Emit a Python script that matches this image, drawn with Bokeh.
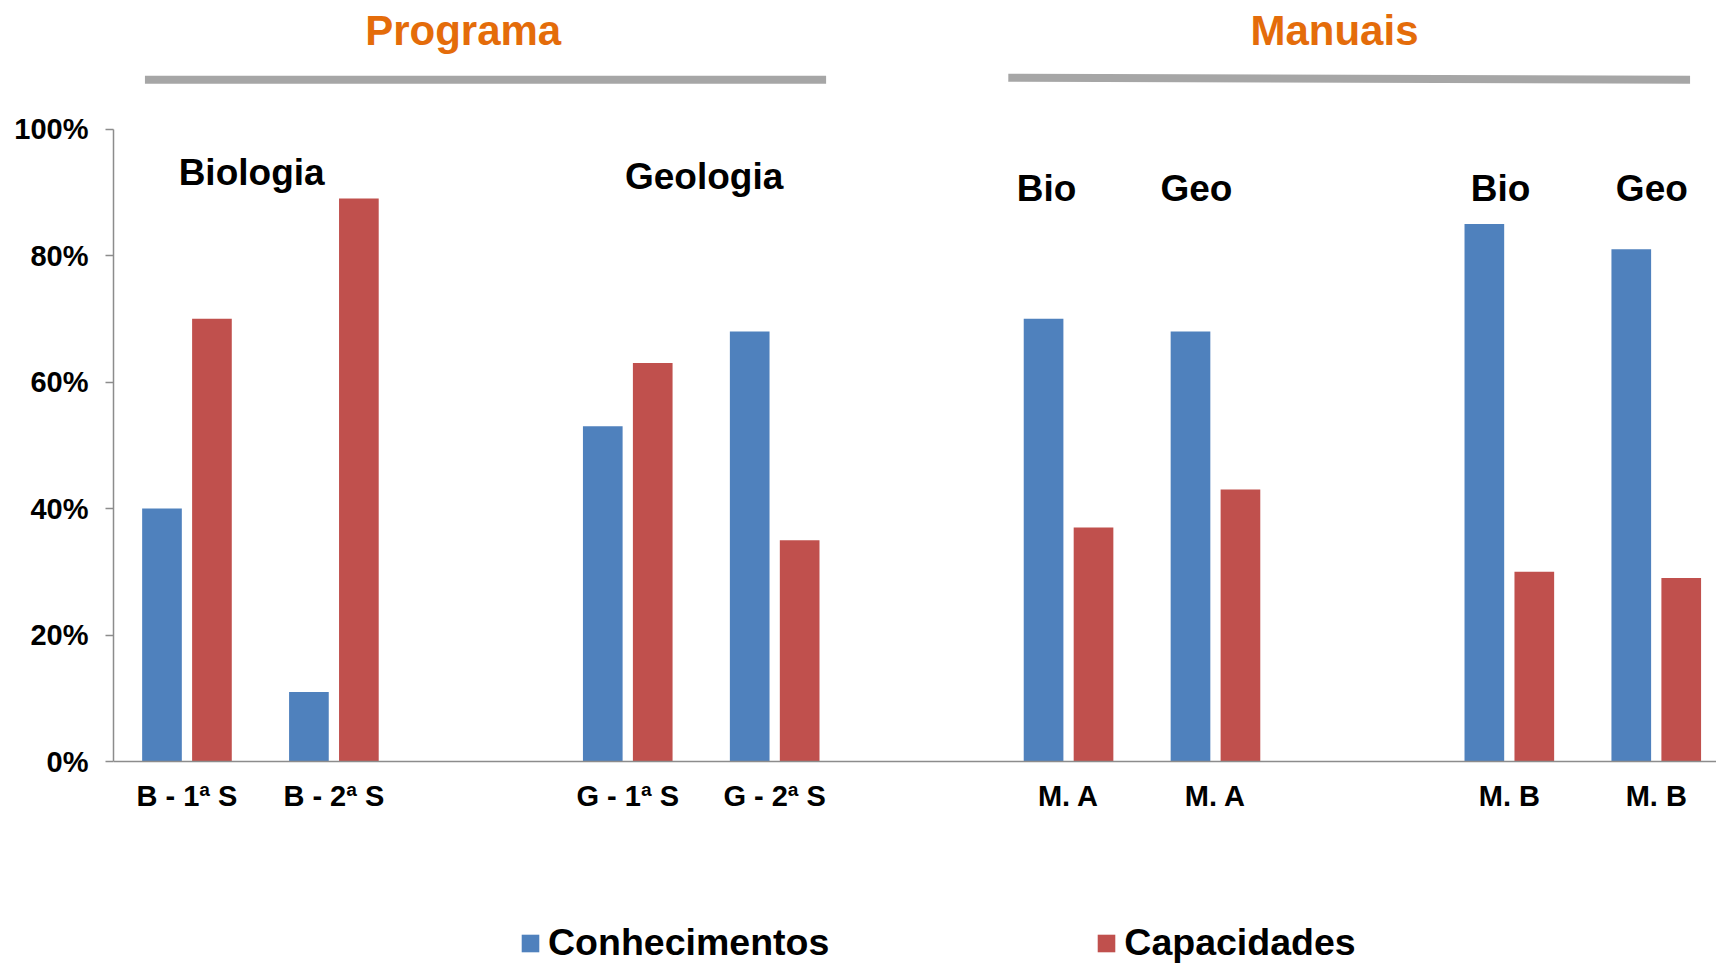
from bokeh.plotting import figure
from bokeh.models import Range1d, FixedTicker, Legend, LegendItem, ColumnDataSource
from bokeh.core.properties import value
from bokeh.embed import file_html
from bokeh.resources import INLINE

# ---- data ----
categories = ["B - 1ª S", "B - 2ª S", "G - 1ª S", "G - 2ª S", "M. A", "M. A", "M. B", "M. B"]
conhecimentos = [40, 11, 53, 68, 70, 68, 85, 81]
capacidades = [70, 89, 63, 35, 37, 43, 30, 29]
y_ticks = [0, 20, 40, 60, 80, 100]
y_tick_labels = ["0%", "20%", "40%", "60%", "80%", "100%"]
series_names = ["Conhecimentos", "Capacidades"]

# ---- layout (slot positions, offsets, annotations) ----
slots = [0, 1, 3, 4, 6, 7, 9, 10]
offset = 0.17
bar_w = 0.27
blue = "#4F81BD"
red = "#C0504D"
orange = "#E46C0A"
FONT = "Liberation Sans"
dy = 2.13  # baseline correction for svg text

group_titles = ["Biologia", "Geologia", "Bio", "Geo", "Bio", "Geo"]
group_x = [0.44, 3.52, 5.85, 6.87, 8.94, 9.97]
group_y = [91.0 + dy, 90.4 + dy, 88.5 + dy, 88.5 + dy, 88.5 + dy, 88.5 + dy]

top_titles = ["Programa", "Manuais"]
top_x = [1.88, 7.81]
top_y = [113.4 + dy, 113.4 + dy]

line_x0 = [-0.286, 5.59]
line_x1 = [4.35, 10.23]
line_y0 = [107.8, 108.1]
line_y1 = [107.8, 107.8]

W, H = 1716, 964
p = figure(width=W, height=H, output_backend="svg", toolbar_location=None,
           x_range=Range1d(-0.5, 10.41), y_range=Range1d(-32.09, 120.32),
           min_border_left=113, min_border_right=0, min_border_top=0, min_border_bottom=0)
p.outline_line_color = None
p.grid.visible = False
p.background_fill_color = "white"
p.border_fill_color = "white"

src = ColumnDataSource(dict(
    xb=[s - offset for s in slots], xr=[s + offset for s in slots],
    c=conhecimentos, k=capacidades))
rb = p.vbar(x="xb", top="c", bottom=0, width=bar_w, source=src, fill_color=blue, line_color=None)
rr = p.vbar(x="xr", top="k", bottom=0, width=bar_w, source=src, fill_color=red, line_color=None)

# y axis
yax = p.yaxis[0]
yax.bounds = (0, 100)
yax.ticker = FixedTicker(ticks=y_ticks)
yax.major_label_overrides = {t: l for t, l in zip(y_ticks, y_tick_labels)}
yax.major_label_text_font = FONT
yax.major_label_text_font_style = "bold"
yax.major_label_text_font_size = "29px"
yax.major_label_text_color = "black"
yax.major_tick_out = 8
yax.major_tick_in = 0
yax.minor_tick_line_color = None
yax.major_label_standoff = 17
yax.axis_line_color = "#8C8C8C"
yax.axis_line_width = 1.5
yax.major_tick_line_color = "#8C8C8C"
yax.major_tick_line_width = 1.5

# x axis at y = 0
xax = p.xaxis[0]
xax.fixed_location = 0
xax.ticker = FixedTicker(ticks=slots)
xax.major_label_overrides = {s: c for s, c in zip(slots, categories)}
xax.major_label_text_font = FONT
xax.major_label_text_font_style = "bold"
xax.major_label_text_font_size = "29px"
xax.major_label_text_color = "black"
xax.major_tick_out = 0
xax.major_tick_in = 0
xax.minor_tick_line_color = None
xax.major_label_standoff = 18
xax.axis_line_color = "#8C8C8C"
xax.axis_line_width = 1.5

# group titles
p.text(x=group_x, y=group_y, text=group_titles, text_font=value(FONT), text_font_style="bold",
       text_font_size="37px", text_align="center", text_baseline="alphabetic", text_color="black")
p.text(x=top_x, y=top_y, text=top_titles, text_font=value(FONT), text_font_style="bold",
       text_font_size="42px", text_align="center", text_baseline="alphabetic", text_color=orange)
p.segment(x0=line_x0, y0=line_y0, x1=line_x1, y1=line_y1, line_color="#A6A6A6",
          line_width=8, line_cap="butt")

legend = Legend(items=[LegendItem(label=series_names[0], renderers=[rb]),
                       LegendItem(label=series_names[1], renderers=[rr])],
                orientation="horizontal", location=(406, 0),
                glyph_width=22, glyph_height=22, label_standoff=7, spacing=266,
                padding=0, margin=0, border_line_color=None, background_fill_alpha=0,
                label_text_font=FONT, label_text_font_style="bold", label_text_font_size="37.5px",
                label_text_color="black")
p.add_layout(legend, "center")

open("out.html", "w").write(file_html(p, INLINE))
